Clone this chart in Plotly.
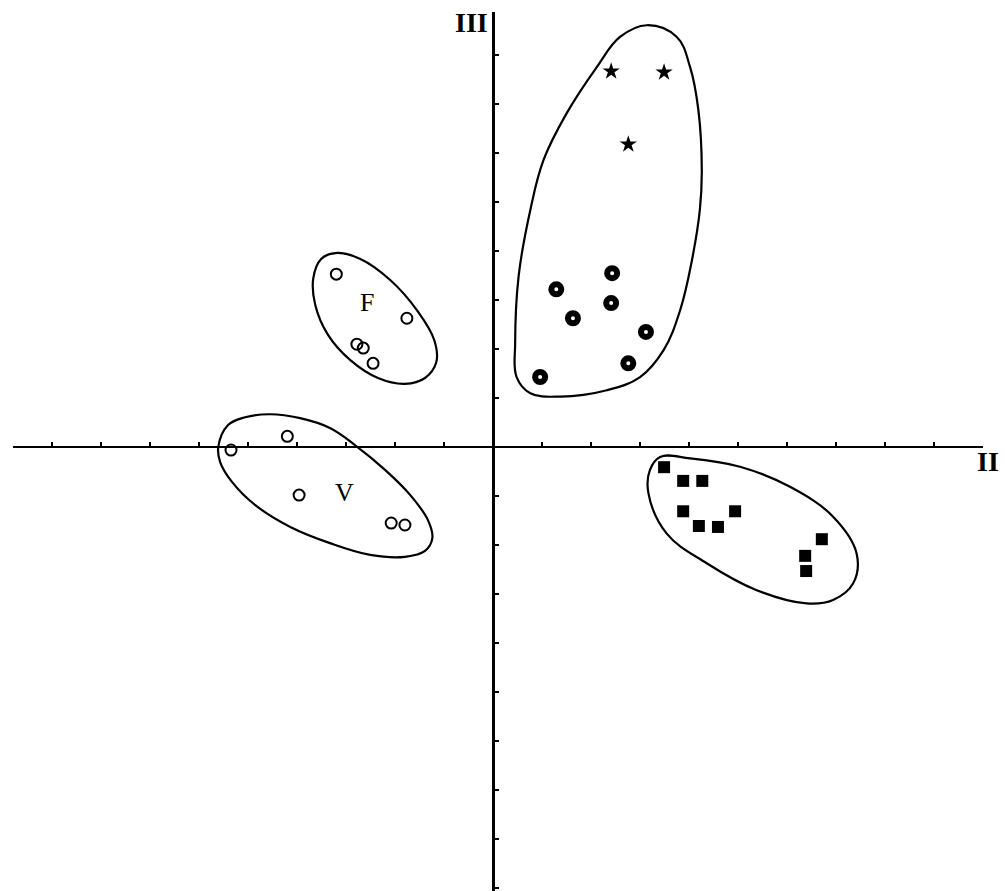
import plotly.graph_objects as go

# ---- scores on components II (horizontal) and III (vertical) ----
f_x = [-3.20, -1.76, -2.78, -2.65, -2.45]
f_y = [3.53, 2.63, 2.10, 2.02, 1.71]

v_x = [-4.20, -5.35, -3.96, -2.08, -1.80]
v_y = [0.22, -0.06, -0.98, -1.55, -1.59]

ring_x = [2.43, 1.29, 2.41, 1.63, 3.12, 2.76, 0.96]
ring_y = [3.55, 3.22, 2.94, 2.63, 2.35, 1.71, 1.43]

star_x = [2.41, 3.49, 2.76]
star_y = [7.67, 7.65, 6.18]

sq_x = [3.49, 3.88, 4.27, 3.88, 4.20, 4.59, 4.94, 6.71, 6.37, 6.39]
sq_y = [-0.41, -0.69, -0.69, -1.31, -1.61, -1.63, -1.31, -1.88, -2.22, -2.53]

# ---- hand-drawn group envelopes (closed spline through these vertices) ----
hull_top_x = [3.14, 3.75, 4.02, 4.19, 4.26, 4.22, 4.06, 3.82, 3.48, 3.00, 2.32,
              1.37, 0.76, 0.48, 0.45, 0.52, 0.76, 1.03, 1.50, 2.12, 2.59]
hull_top_y = [8.61, 8.37, 7.76, 6.88, 5.65, 4.84, 3.82, 2.80, 1.98, 1.43, 1.16,
              1.03, 1.10, 1.43, 2.12, 3.48, 4.84, 5.86, 6.81, 7.76, 8.37]

hull_f_x = [-3.22, -3.51, -3.67, -3.63, -3.37, -2.92, -2.35, -1.80, -1.39, -1.16,
            -1.20, -1.53, -2.10, -2.71]
hull_f_y = [3.96, 3.84, 3.45, 2.90, 2.29, 1.78, 1.41, 1.29, 1.41, 1.73,
            2.18, 2.76, 3.41, 3.84]

hull_v_x = [-5.61, -5.41, -5.06, -4.55, -3.94, -3.33, -2.82, -2.20, -1.69, -1.33,
            -1.24, -1.39, -1.80, -2.51, -3.33, -4.14, -4.86, -5.33, -5.57]
hull_v_y = [0.00, 0.45, 0.61, 0.67, 0.59, 0.39, 0.04, -0.47, -0.98, -1.49,
            -1.86, -2.12, -2.24, -2.20, -1.96, -1.63, -1.18, -0.71, -0.31]

hull_sq_x = [3.41, 4.02, 5.04, 6.06, 6.94, 7.42, 7.35, 6.94, 6.40, 5.38, 4.36,
             3.54, 3.17, 3.20]
hull_sq_y = [-0.20, -0.23, -0.40, -0.81, -1.42, -2.17, -2.78, -3.12, -3.19, -2.92,
             -2.37, -1.76, -0.94, -0.47]

# group labels
group_labels = ["F", "V"]
group_label_x = [-2.57, -3.04]
group_label_y = [2.96, -0.92]

# axis extent (one tick = one unit)
X_RANGE = [-9.8, 10.0]
Y_RANGE = [-9.06, 8.88]
X_DOMAIN = [13 / 1005, 983 / 1005]
Y_DOMAIN = [0.0, 879 / 891]


def zero_position(rng, dom):
    return dom[0] + (0 - rng[0]) / (rng[1] - rng[0]) * (dom[1] - dom[0])


def closed(xs, ys):
    return xs + xs[:1], ys + ys[:1]


fig = go.Figure()

for hx, hy in [(hull_top_x, hull_top_y), (hull_f_x, hull_f_y),
               (hull_v_x, hull_v_y), (hull_sq_x, hull_sq_y)]:
    cx, cy = closed(hx, hy)
    fig.add_trace(go.Scatter(
        x=cx, y=cy, mode="lines",
        line=dict(color="black", width=2.2, shape="spline", smoothing=1.1),
        hoverinfo="skip", showlegend=False))

open_marker = dict(symbol="circle-open", size=11, color="black",
                   line=dict(width=2, color="black"))
fig.add_trace(go.Scatter(x=f_x, y=f_y, mode="markers", marker=open_marker,
                         name="F", showlegend=False))
fig.add_trace(go.Scatter(x=v_x, y=v_y, mode="markers", marker=open_marker,
                         name="V", showlegend=False))
fig.add_trace(go.Scatter(
    x=ring_x, y=ring_y, mode="markers", showlegend=False,
    marker=dict(symbol="circle-open", size=10, color="black",
                line=dict(width=6, color="black"))))
fig.add_trace(go.Scatter(
    x=star_x, y=star_y, mode="markers", showlegend=False,
    marker=dict(symbol="star", size=13, color="black", line=dict(width=0))))
fig.add_trace(go.Scatter(
    x=sq_x, y=sq_y, mode="markers", showlegend=False,
    marker=dict(symbol="square", size=12, color="black", line=dict(width=0))))

for txt, tx, ty in zip(group_labels, group_label_x, group_label_y):
    fig.add_annotation(x=tx, y=ty, text=txt, showarrow=False,
                       font=dict(family="Liberation Serif", size=26, color="black"))

# axis names
fig.add_annotation(x=X_RANGE[1], y=0, text="<b>II</b>", showarrow=False,
                   xanchor="left", yanchor="top", xshift=-8, yshift=3,
                   font=dict(family="Liberation Serif", size=28, color="black"))
fig.add_annotation(x=0, y=Y_RANGE[1], text="<b>III</b>", showarrow=False,
                   xanchor="right", yanchor="top", xshift=-3, yshift=7,
                   font=dict(family="Liberation Serif", size=28, color="black"))

fig.update_layout(
    width=1005, height=891,
    margin=dict(l=0, r=0, t=0, b=0, pad=0),
    paper_bgcolor="white", plot_bgcolor="white",
    showlegend=False,
    xaxis=dict(range=X_RANGE, domain=X_DOMAIN, anchor="free",
               position=zero_position(Y_RANGE, Y_DOMAIN),
               showgrid=False, zeroline=False, showline=True,
               linecolor="black", linewidth=2,
               ticks="inside", tickmode="linear", tick0=0, dtick=1,
               ticklen=4, tickwidth=2, tickcolor="black",
               showticklabels=False, fixedrange=True),
    yaxis=dict(range=Y_RANGE, domain=Y_DOMAIN, anchor="free",
               position=zero_position(X_RANGE, X_DOMAIN),
               showgrid=False, zeroline=False, showline=True,
               linecolor="black", linewidth=3,
               ticks="inside", tickmode="linear", tick0=0, dtick=1,
               ticklen=4, tickwidth=2, tickcolor="black",
               showticklabels=False, fixedrange=True),
)

fig.write_html("out.html")
